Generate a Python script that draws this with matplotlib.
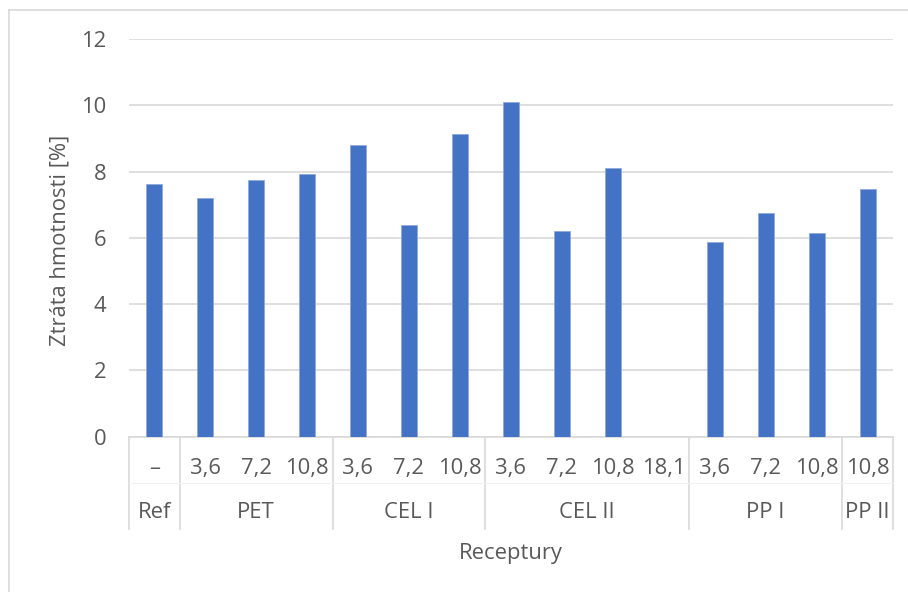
import numpy as np
import matplotlib
matplotlib.use("Agg")
import matplotlib.pyplot as plt
from matplotlib.lines import Line2D
from matplotlib import transforms

plt.rcParams['font.family'] = ['Open Sans', 'DejaVu Sans']

# data
dosage = ['–', '3,6', '7,2', '10,8', '3,6', '7,2', '10,8',
          '3,6', '7,2', '10,8', '18,1', '3,6', '7,2', '10,8', '10,8']
groups = ['Ref', 'PET', 'CEL I', 'CEL II', 'PP I', 'PP II']
group_sizes = [1, 3, 3, 4, 3, 1]
loss = [7.63, 7.19, 7.73, 7.93, 8.80, 6.40, 9.12,
        10.10, 6.21, 8.12, np.nan, 5.88, 6.74, 6.13, 7.47]

grey = '#595959'
line_c = '#D9D9D9'
fs = 15.8

fig = plt.figure(figsize=(9.08, 5.92), dpi=100)
ax = fig.add_axes([128.7 / 908, 1 - 436.6 / 592, (893 - 128.7) / 908, (436.6 - 39) / 592])

x = np.arange(len(loss))
ax.bar(x, loss, width=0.314, color='#4472C4', edgecolor='#8FAADC', linewidth=0.6, zorder=3)

ax.set_xlim(-0.5, len(loss) - 0.5)
ax.set_ylim(0, 12)
ax.set_yticks(range(0, 13, 2))
ax.yaxis.grid(True, color=line_c, linewidth=1.2, zorder=0)
ax.tick_params(axis='y', length=0, pad=16, labelsize=fs, labelcolor=grey)
ax.set_xticks([])
for s in ['top', 'right', 'left']:
    ax.spines[s].set_visible(False)
ax.spines['bottom'].set_color(line_c)
ax.spines['bottom'].set_linewidth(1.2)

fig.text(60 / 908, 1 - 240 / 592, 'Ztráta hmotnosti [%]', rotation=90,
         ha='center', va='center', fontsize=fs, color=grey)

# multi-level category axis
trans = transforms.blended_transform_factory(ax.transData, ax.transAxes)
row_y = -0.1167
bottom_y = -0.232
for xi, lab in enumerate(dosage):
    ax.text(xi, -0.079, lab, transform=trans, ha='center', va='center',
            fontsize=fs, color=grey)

edges = np.concatenate([[0], np.cumsum(group_sizes)]) - 0.5
for i, g in enumerate(groups):
    mid = (edges[i] + edges[i + 1]) / 2
    ax.text(mid, -0.192, g, transform=trans, ha='center', va='center',
            fontsize=fs, color=grey)
for e in edges:
    ax.add_line(Line2D([e, e], [0, bottom_y], transform=trans, color=line_c,
                       linewidth=1.2, clip_on=False))
ax.add_line(Line2D([-0.5, len(loss) - 0.5], [row_y, row_y], transform=trans,
                   color='#F2F2F2', linewidth=0.8, clip_on=False))

fig.text(511 / 908, 1 - 553 / 592, 'Receptury', ha='center', va='center',
         fontsize=fs, color=grey)

# chart frame (left and top edges visible)
fig.add_artist(Line2D([8.5 / 908, 8.5 / 908], [0, 1 - 10 / 592], transform=fig.transFigure,
                      color=line_c, linewidth=1.2))
fig.add_artist(Line2D([8.5 / 908, 1], [1 - 10 / 592, 1 - 10 / 592], transform=fig.transFigure,
                      color=line_c, linewidth=1.2))

fig.savefig('out.png', dpi=100)
